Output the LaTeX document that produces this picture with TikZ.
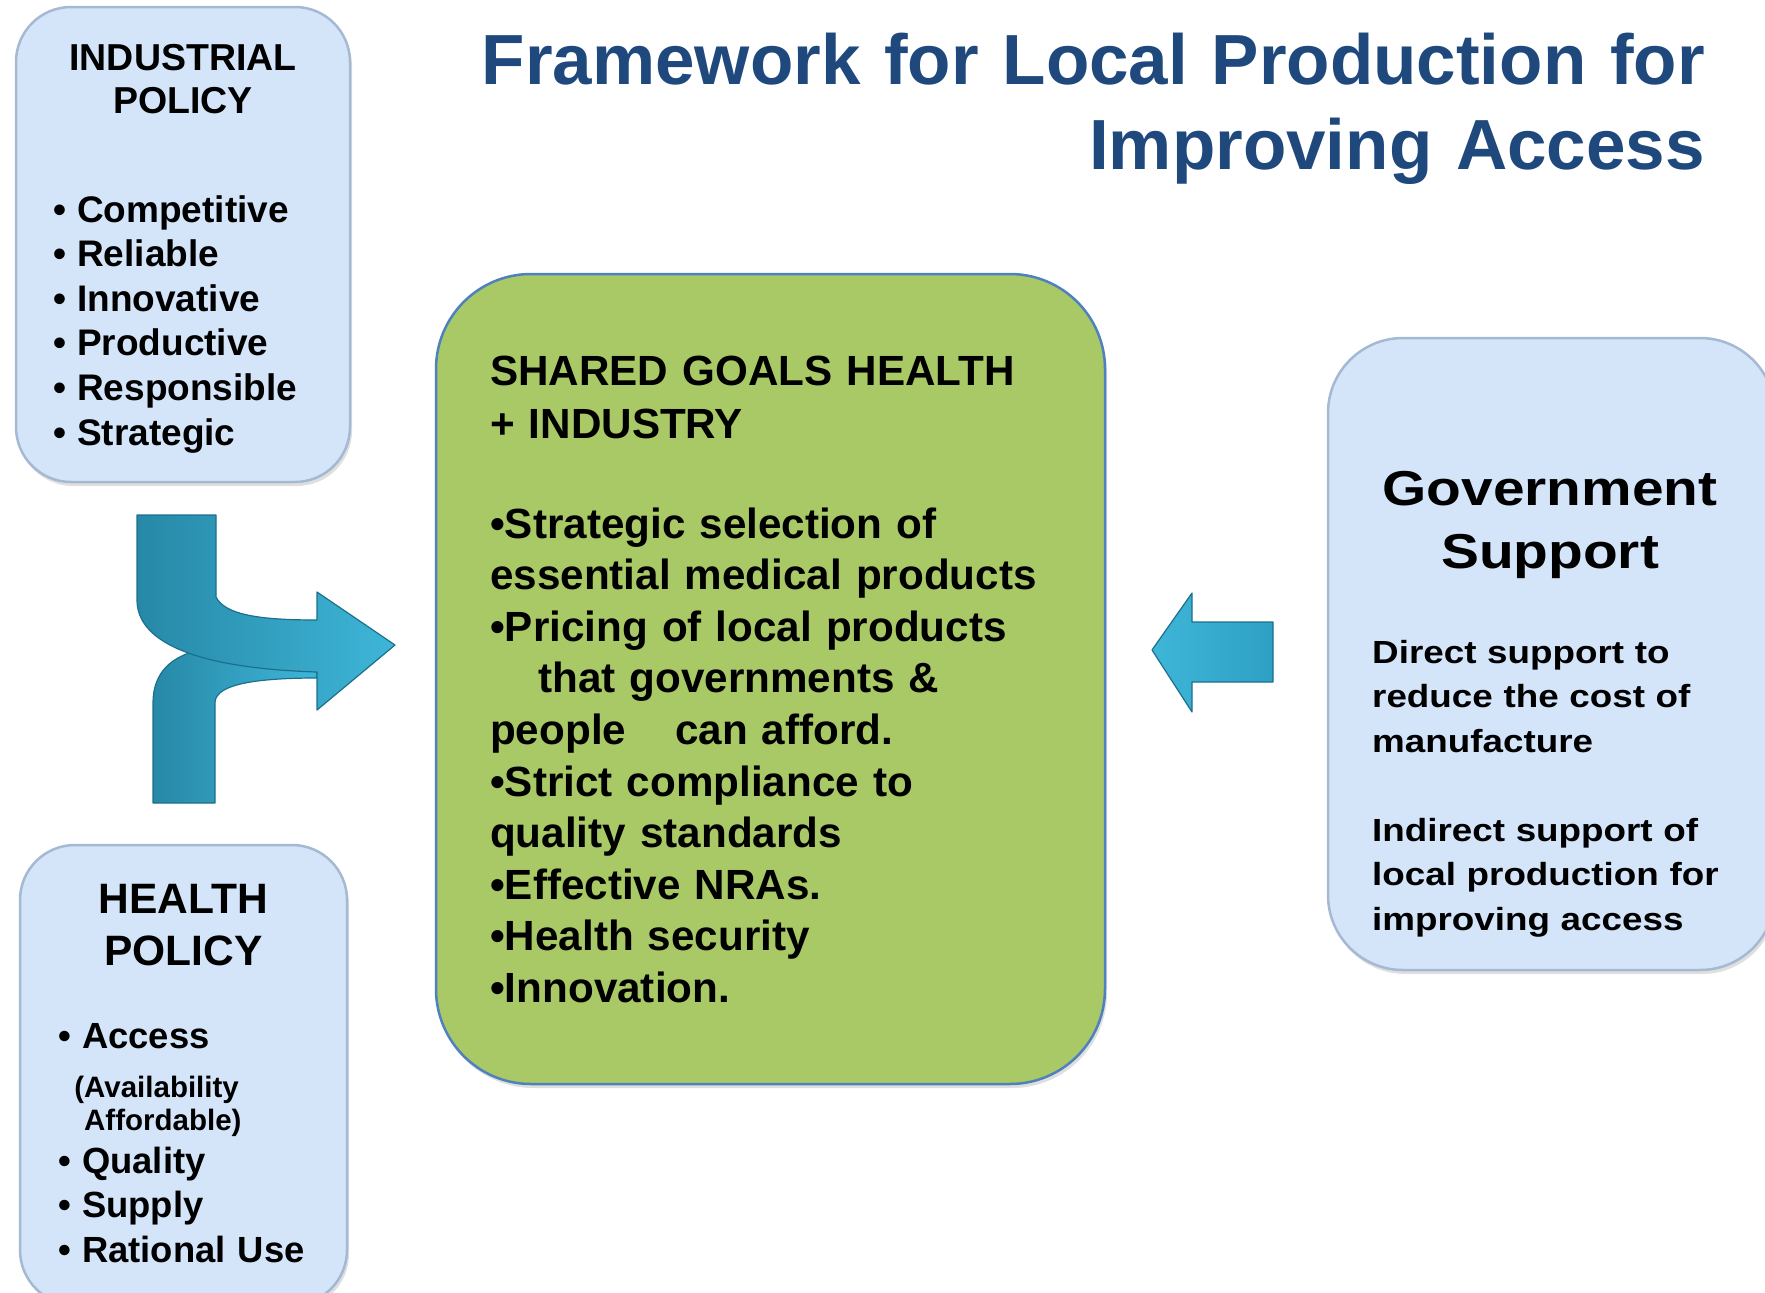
\documentclass[tikz,border=0pt]{standalone}
\usepackage{fontspec}
\setmainfont{Liberation Sans}
\newfontfamily\widefont{Liberation Sans}[FakeStretch=1.15]
\newfontfamily\govheadfont{Liberation Sans}[FakeStretch=1.16]
\usetikzlibrary{shadows}
\definecolor{titleBlue}{RGB}{31,73,125}
\definecolor{panelBlue}{RGB}{212,229,250}
\definecolor{panelEdge}{RGB}{165,185,210}
\definecolor{goalGreen}{RGB}{169,200,102}
\definecolor{goalEdge}{RGB}{79,129,189}
\definecolor{arrowTeal}{RGB}{46,160,196}
\definecolor{arrowLight}{RGB}{62,182,216}
\definecolor{arrowDark}{RGB}{28,112,140}
\newcommand\pbul{\makebox[24pt][l]{•}}

\begin{document}
\begin{tikzpicture}[x=1pt, y=1pt]
            \tikzset{panel/.style = {draw=panelEdge, line width=2.5pt, fill=panelBlue, rounded corners=55pt, inner sep=0pt,
                drop shadow={shadow xshift=2pt, shadow yshift=-4pt, opacity=0.25}}}
            \tikzset{goalbox/.style = {panel, draw=goalEdge, fill=goalGreen, rounded corners=95pt}}
            \tikzset{txt/.style = {inner sep=0pt, align=left, anchor=base west}}
            \tikzset{head/.style = {inner sep=0pt, align=center, anchor=base}}
            \tikzset{blockarrow/.style = {left color=arrowTeal!85!black, right color=arrowLight, draw=arrowDark,
                line width=1.2pt, line join=round}}
            \useasboundingbox (0,0) rectangle (1765,-1293);
            \clip (0,0) rectangle (1765,-1293);

            % title
            \node[inner sep=0pt, text width=1300pt, align=right, anchor=base east, text=titleBlue,
                font=\bfseries\fontsize{71}{85}\selectfont] (title) at (1705,-84)
                {Framework for Local Production for\\Improving Access};

            % boxes
            \node[panel, minimum width=334pt, minimum height=475pt] (ind) at (183,-244.5) {};
            \node[panel, minimum width=327pt, minimum height=460pt] (hea) at (183.5,-1075) {};
            \node[goalbox, minimum width=669pt, minimum height=810pt] (goal) at (770.5,-679) {};
            \node[panel, rounded corners=75pt, minimum width=447pt, minimum height=632pt] (gov) at (1551.5,-654) {};

            % industrial policy
            \node[head, text width=320pt, font=\bfseries\fontsize{37.5}{43}\selectfont] (indhead) at (183,-70)
                {INDUSTRIAL\\POLICY};
            \node[txt, text width=290pt, font=\bfseries\fontsize{37}{44.6}\selectfont] (indlist) at (53,-222)
                {\pbul Competitive\\\pbul Reliable\\\pbul Innovative\\\pbul Productive\\\pbul Responsible\\\pbul Strategic};

            % health policy
            \node[head, text width=320pt, font=\bfseries\fontsize{42.5}{52}\selectfont] (heahead) at (183.5,-913)
                {HEALTH\\POLICY};
            \node[txt, text width=280pt, font=\bfseries\fontsize{36.4}{44.5}\selectfont] (access) at (58,-1048)
                {\pbul Access};
            \node[txt, text width=240pt, font=\bfseries\fontsize{29.5}{33}\selectfont] (accsub) at (84,-1097)
                {\llap{(}Availability\\Affordable)};
            \node[txt, text width=280pt, font=\bfseries\fontsize{36.4}{44.5}\selectfont] (heathlist) at (58,-1173)
                {\pbul Quality\\\pbul Supply\\\pbul Rational Use};

            % shared goals
            \node[txt, text width=600pt, font=\bfseries\fontsize{42.2}{53}\selectfont] (goalhead) at (490,-385)
                {SHARED GOALS HEALTH\\+ INDUSTRY};
            \node[txt, text width=600pt, font=\bfseries\fontsize{42.2}{51.6}\selectfont] (goallist) at (490,-538)
                {•Strategic selection of\\essential medical products\\•Pricing of local products\\
                \hspace*{48pt}that governments \&\\people\hspace*{49pt}can afford.\\•Strict compliance to\\
                quality standards\\•Effective NRAs.\\•Health security\\•Innovation.};

            % government support
            \node[head, text width=400pt, font=\govheadfont\bfseries\fontsize{49}{63}\selectfont] (govhead) at (1550,-505)
                {Government\\Support};
            \node[txt, text width=380pt, font=\widefont\bfseries\fontsize{32}{44.5}\selectfont] (govtext) at (1372,-663)
                {Direct support to\\reduce the cost of\\manufacture\\[44.5pt]Indirect support of\\local production for\\improving access};

            % merging arrow
            \draw[blockarrow] (153,-803) -- (215,-803) -- (215,-703)
                .. controls (215,-688) and (240,-678) .. (317,-678) -- (317,-650) -- (200,-650)
                .. controls (172,-656) and (153,-672) .. (153,-703) -- cycle;
            \draw[blockarrow] (137,-515) -- (216,-515) -- (216,-597)
                .. controls (225,-615) and (260,-620) .. (317,-620) -- (317,-592) -- (395,-645)
                -- (317,-710) -- (317,-672) .. controls (190,-668) and (137,-640) .. (137,-600) -- cycle;

            % support arrow
            \draw[blockarrow, left color=arrowLight, right color=arrowTeal] (1273,-622) -- (1192,-622) -- (1192,-593)
                -- (1152,-650) -- (1192,-712) -- (1192,-682) -- (1273,-682) -- cycle;
\end{tikzpicture}
\end{document}
